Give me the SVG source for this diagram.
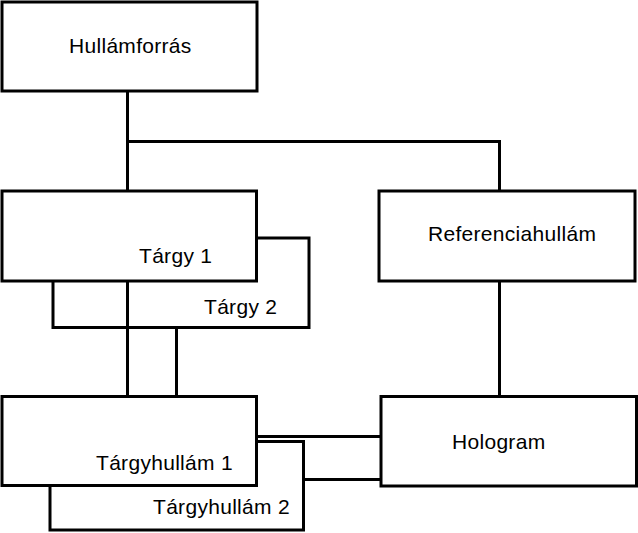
<svg xmlns="http://www.w3.org/2000/svg" width="638" height="533" viewBox="0 0 638 533">
<style>
.box{fill:#fff;stroke:#000;stroke-width:3}
.lbl{font-family:"Liberation Sans",Arial,sans-serif;font-size:21px;letter-spacing:0.3px;fill:#000}
.conn{fill:none;stroke:#000;stroke-width:3}
</style>
<rect width="638" height="533" fill="#fff"/>
<g id="hullamforras"><rect class="box" x="2" y="2" width="255" height="89"/><text class="lbl" x="69" y="53">Hullámforrás</text></g>
<g id="targy2"><rect class="box" x="53" y="238" width="256" height="89.5"/><text class="lbl" x="204" y="313.5">Tárgy 2</text></g>
<g id="targy1"><rect class="box" x="2" y="191" width="254.5" height="90"/><text class="lbl" x="139" y="263">Tárgy 1</text></g>
<g id="referenciahullam"><rect class="box" x="379" y="191" width="256" height="90"/><text class="lbl" x="428" y="241">Referenciahullám</text></g>
<g id="targyhullam2"><rect class="box" x="50" y="441.5" width="253.5" height="88.5"/><text class="lbl" x="153" y="513.5">Tárgyhullám 2</text></g>
<g id="targyhullam1"><rect class="box" x="2" y="396.5" width="254.5" height="89"/><text class="lbl" x="96" y="470">Tárgyhullám 1</text></g>
<g id="hologram"><rect class="box" x="381" y="396.5" width="255.5" height="89.5"/><text class="lbl" x="452" y="448.5">Hologram</text></g>
<g id="connectors">
<path class="conn" d="M127.5 91V191"/>
<path class="conn" d="M127.5 141.5H499.5V191"/>
<path class="conn" d="M499.5 281V396.5"/>
<path class="conn" d="M127.5 281V396.5"/>
<path class="conn" d="M176.5 327.5V396.5"/>
<path class="conn" d="M256.5 436.5H381"/>
<path class="conn" d="M303.5 479.5H381"/>
</g>
</svg>
